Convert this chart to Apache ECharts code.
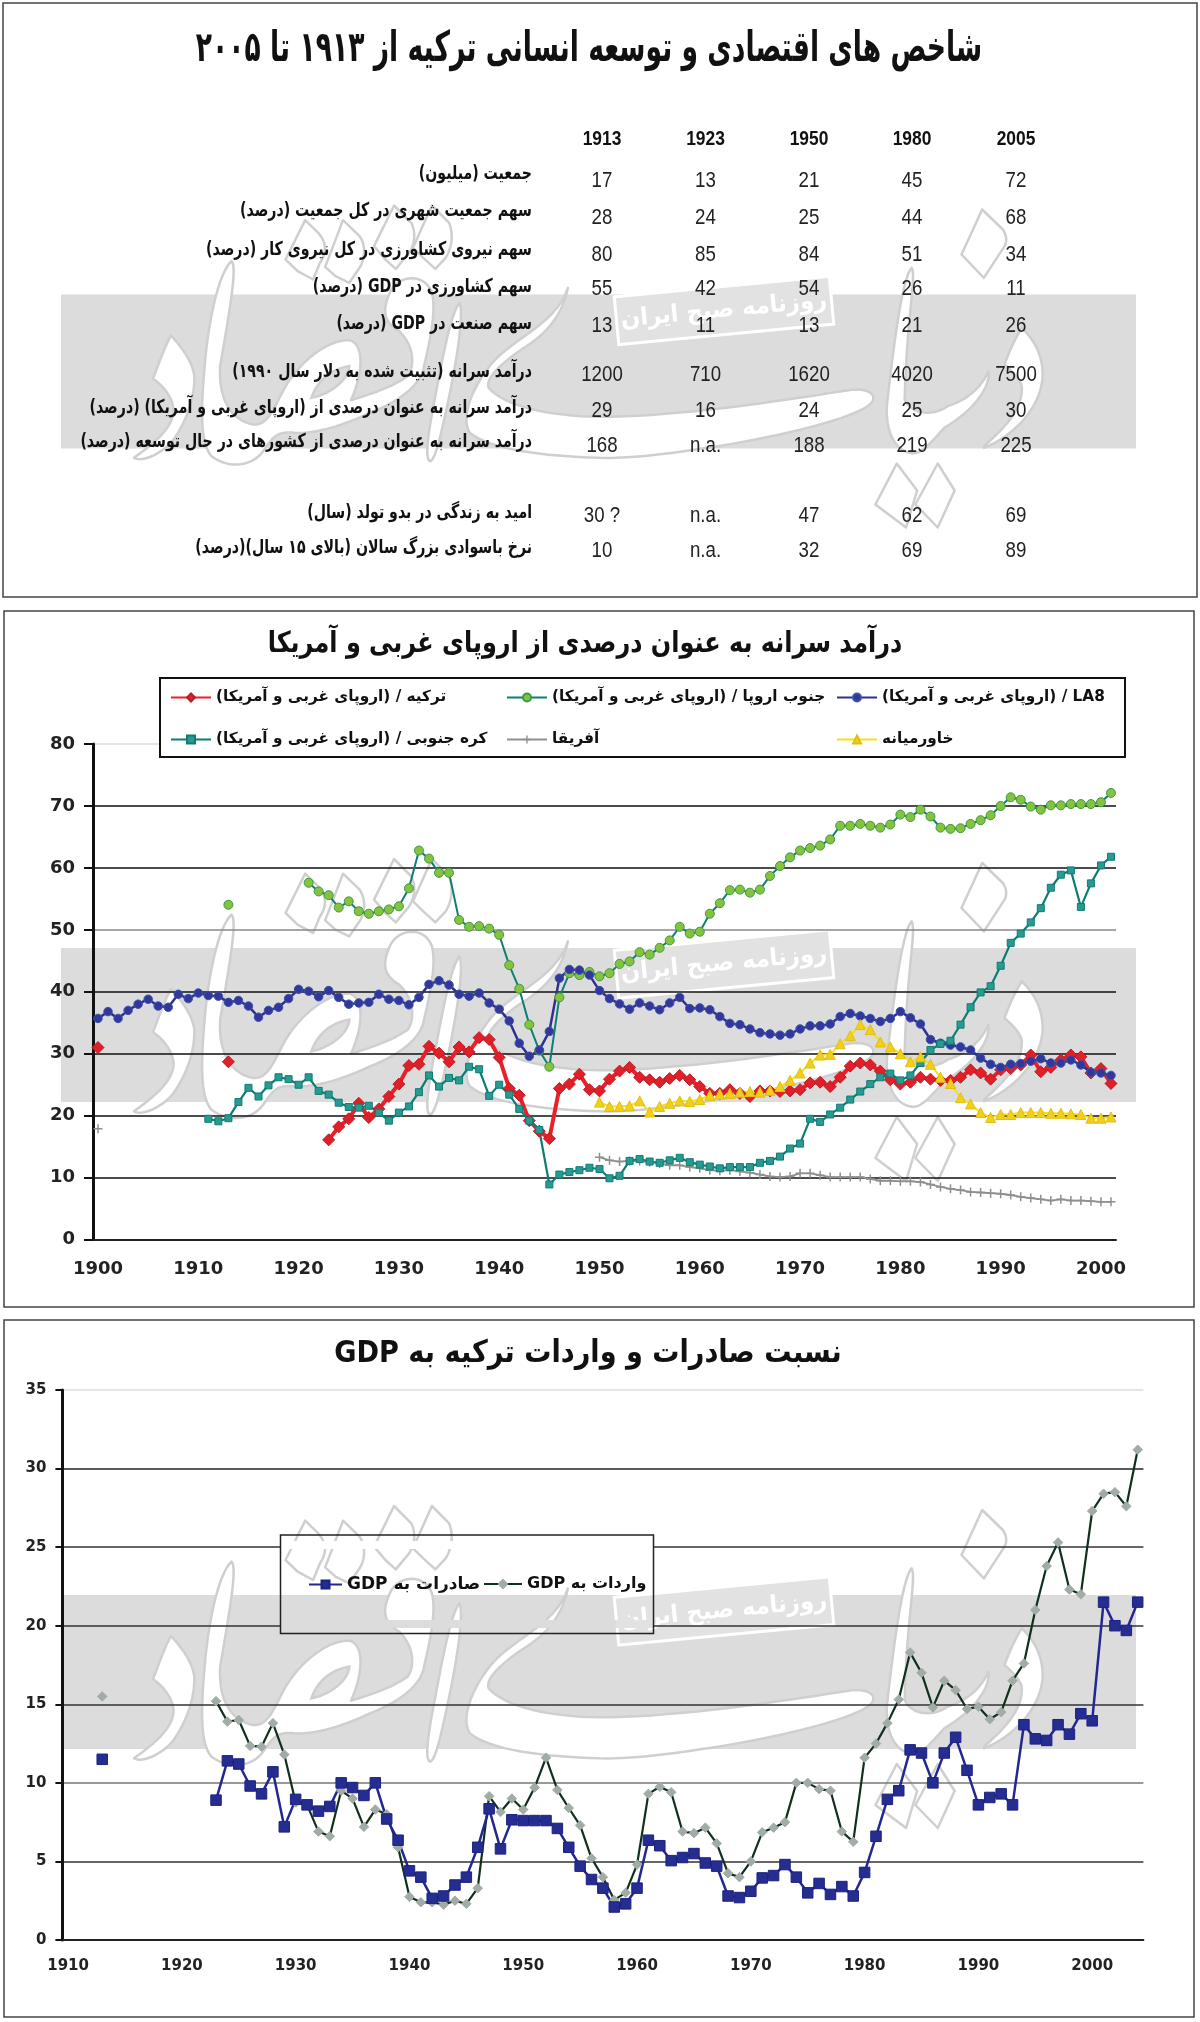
<!DOCTYPE html>
<html>
<head>
<meta charset="utf-8">
<style>
html,body{margin:0;padding:0;background:#fff}
#main{width:1200px;height:2022px;position:absolute;left:0;top:0}
</style>
<script src="https://cdn.jsdelivr.net/npm/echarts@6/dist/echarts.min.js"></script>
</head>
<body>
<div id="main" dir="rtl"></div>
<script>
/* ---------- table ---------- */
const tableTitle = 'شاخص های اقتصادی و توسعه انسانی ترکیه از ۱۹۱۳ تا ۲۰۰۵';
const tableYears = ['1913','1923','1950','1980','2005'];
const tableLabels = [
 'جمعیت (میلیون)',
 'سهم جمعیت شهری در کل جمعیت (درصد)',
 'سهم نیروی کشاورزی در کل نیروی کار (درصد)',
 'سهم کشاورزی در GDP (درصد)',
 'سهم صنعت در GDP (درصد)',
 'درآمد سرانه (تثبیت شده به دلار سال ۱۹۹۰)',
 'درآمد سرانه به عنوان درصدی از (اروپای غربی و آمریکا) (درصد)',
 'درآمد سرانه به عنوان درصدی از کشورهای در حال توسعه (درصد)',
 'امید به زندگی در بدو تولد (سال)',
 'نرخ باسوادی بزرگ سالان (بالای ۱۵ سال)(درصد)'
];
const col1913 = ['17','28','80','55','13','1200','29','168','\u200e30 ?\u200e','10'];
const col1923 = ['13','24','85','42','11','710','16','\u200en.a.\u200e','\u200en.a.\u200e','\u200en.a.\u200e'];
const col1950 = ['21','25','84','54','13','1620','24','188','47','32'];
const col1980 = ['45','44','51','26','21','4020','25','219','62','69'];
const col2005 = ['72','68','34','11','26','7500','30','225','69','89'];

/* ---------- chart 2 ---------- */
const incomeTitle = 'درآمد سرانه به عنوان درصدی از اروپای غربی و آمریکا';
const incomeYears = [1900,1901,1902,1903,1904,1905,1906,1907,1908,1909,1910,1911,1912,1913,1914,1915,1916,1917,1918,1919,1920,1921,1922,1923,1924,1925,1926,1927,1928,1929,1930,1931,1932,1933,1934,1935,1936,1937,1938,1939,1940,1941,1942,1943,1944,1945,1946,1947,1948,1949,1950,1951,1952,1953,1954,1955,1956,1957,1958,1959,1960,1961,1962,1963,1964,1965,1966,1967,1968,1969,1970,1971,1972,1973,1974,1975,1976,1977,1978,1979,1980,1981,1982,1983,1984,1985,1986,1987,1988,1989,1990,1991,1992,1993,1994,1995,1996,1997,1998,1999,2000,2001];
const turkeyName='ترکیه / (اروپای غربی و آمریکا)', seName='جنوب اروپا / (اروپای غربی و آمریکا)', la8Name='LA8 / (اروپای غربی و آمریکا)', koreaName='کره جنوبی / (اروپای غربی و آمریکا)', africaName='آفریقا', meName='خاورمیانه';
// each run: [first year, values...]
const turkeyRuns = [[1900,31],[1913,28.7],[1923,16.1,18.2,19.5,22,19.7,21.1,23.1,25.1,28.1,28.3,31.2,30.1,28.7,31.1,30.3,32.6,32.3,29.4,24.4,23.3,19.2,17.5,16.3,24.4,25.1,26.7,24.2,24,25.9,27.2,27.8,26.2,25.8,25.4,26,26.5,25.8,24.7,23.6,23.6,24.2,23.6,23.1,24,24,23.9,24,24.2,25.3,25.4,24.7,26.2,28,28.5,28.2,27.2,25.8,25.1,25.4,26.2,25.9,25.7,25.7,26.2,27.4,26.9,25.9,27.4,27.6,28.2,29.8,27.1,27.8,29,29.8,29.5,26.9,27.6,25.2]];
const southEuropeRuns = [[1913,54.05],[1921,57.6,56.2,55.6,53.6,54.6,53,52.6,53,53.3,53.8,56.7,62.8,61.5,59.2,59.2,51.6,50.5,50.6,50.2,49.2,44.3,40.5,34.7,30.5,27.9,39.1,43,42.7,43.2,42.5,43,44.5,44.9,46.4,46,47.1,48.3,50.5,49.4,49.7,52.6,54.3,56.4,56.5,56,56.5,58.7,60.3,61.7,62.8,63.2,63.6,64.6,66.8,66.8,67.1,66.8,66.5,67,68.6,68.2,69.4,68.3,66.5,66.3,66.4,67.1,67.7,68.5,70,71.4,71,69.9,69.4,70.1,70.1,70.3,70.3,70.3,70.6,72.1]];
const la8Runs = [[1900,35.7,36.8,35.7,37,38,38.8,37.7,37.5,39.6,38.9,39.8,39.4,39.3,38.3,38.6,37.7,35.9,37,37.5,38.9,40.4,40.1,39.2,40.2,39.1,38,38.2,38.3,39.6,38.8,38.6,37.9,39.1,41.2,41.8,41.1,39.6,39.3,39.8,38.2,37.2,35.3,31.7,29.6,30.6,33.6,42.2,43.6,43.5,42.7,40.2,38.9,38.05,37.2,38.2,37.7,37.1,38.2,39.1,37.3,37.4,37.1,36,34.9,34.7,34,33.4,33.2,33,33.2,34,34.5,34.5,34.8,36,36.5,36.1,35.7,35.2,35.7,36.8,35.8,34.8,32.3,31.7,31.4,31.1,30.6,29.3,28.3,27.8,28.3,28.4,28.8,29.2,28.5,28.5,29,28.2,27,26.9,26.5]];
const koreaRuns = [[1911,19.5,19.1,19.6,22.2,24.5,23.1,24.9,26.2,25.9,25,26.2,24,23.4,22.1,21.4,21.3,21.6,20.5,19.2,20.5,21.5,23.8,26.5,24.7,26.1,25.7,27.9,27.5,23.2,25,23.4,21.1,19.2,17.7,8.9,10.5,10.9,11.2,11.6,11.4,9.9,10.3,12.7,13,12.6,12.4,12.8,13.2,12.5,12.1,11.8,11.5,11.7,11.7,11.7,12.4,12.7,13.4,14.7,15.5,19.5,19,20.2,21.3,22.6,23.9,25.1,26.2,26.8,25.7,26.5,28.5,30.6,31.6,32.1,34.7,37.5,39.9,40.9,44.2,47.9,49.4,51.2,53.5,56.8,58.9,59.6,53.7,57.5,60.4,61.8]];
const africaRuns = [[1900,17.9],[1950,13.3,12.8,12.6,12.7,12.7,12.5,12.3,12,12,11.7,11.5,11.2,11.1,11.2,11,10.8,10.5,10.2,10.1,10.2,10.7,10.7,10.4,10.1,10.1,10.1,10.1,9.8,9.5,9.5,9.4,9.4,9.3,8.9,8.5,8.2,8,7.7,7.6,7.5,7.4,7.2,6.9,6.7,6.5,6.3,6.5,6.3,6.3,6.2,6.1,6.1]];
const middleEastRuns = [[1950,22.2,21.5,21.5,21.6,22.4,20.6,21.5,22,22.4,22.3,22.6,23.3,23.5,23.6,23.8,23.9,23.8,24.1,24.7,25.7,26.9,28.5,29.8,29.9,31.6,32.9,34.7,33.9,31.9,31.1,30,28.7,29.5,28.3,26.2,25.2,22.9,21.9,20.5,19.7,20.2,20.2,20.5,20.5,20.5,20.4,20.4,20.3,20.2,19.6,19.6,19.8]];

/* ---------- chart 3 ---------- */
const tradeTitle = 'نسبت صادرات و واردات ترکیه به GDP';
const tradeYears = [1910,1911,1912,1913,1914,1915,1916,1917,1918,1919,1920,1921,1922,1923,1924,1925,1926,1927,1928,1929,1930,1931,1932,1933,1934,1935,1936,1937,1938,1939,1940,1941,1942,1943,1944,1945,1946,1947,1948,1949,1950,1951,1952,1953,1954,1955,1956,1957,1958,1959,1960,1961,1962,1963,1964,1965,1966,1967,1968,1969,1970,1971,1972,1973,1974,1975,1976,1977,1978,1979,1980,1981,1982,1983,1984,1985,1986,1987,1988,1989,1990,1991,1992,1993,1994,1995,1996,1997,1998,1999,2000,2001,2002,2003,2004];
const exportName='صادرات به GDP', importName='واردات به GDP';
const exportRuns = [[1913,11.5],[1923,8.9,11.4,11.2,9.8,9.3,10.7,7.2,8.95,8.6,8.2,8.5,10,9.7,9.2,10,7.7,6.35,4.4,4,2.65,2.8,3.5,4,5.9,8.35,5.8,7.65,7.6,7.6,7.6,7.1,5.9,4.7,3.85,3.3,2.1,2.3,3.3,6.35,6,5.05,5.25,5.5,4.9,4.7,2.8,2.7,3.1,3.95,4.1,4.8,4,3,3.6,2.9,3.4,2.8,4.3,6.6,8.95,9.5,12.1,11.9,10,11.9,12.9,10.8,8.6,9.07,9.3,8.6,13.7,12.8,12.7,13.7,13.1,14.4,13.95,21.5,20,19.7,21.5]];
const importRuns = [[1913,15.5],[1923,15.2,13.9,14,12.35,12.3,13.8,11.8,8.75,8.6,6.9,6.6,9.5,9,7.2,8.3,8,5.9,2.75,2.4,2.4,2.25,2.5,2.3,3.3,9.15,8.15,9,8.3,9.7,11.6,9.55,8.4,7.3,5.2,4,2.55,3,4.8,9.3,9.75,9.4,6.9,6.8,7.15,6.15,4.25,4,5,6.85,7.15,7.5,10,10,9.6,9.5,6.9,6.25,11.6,12.5,13.8,15.3,18.3,17,14.8,16.5,15.9,14.7,14.85,14.05,14.5,16.5,17.6,21,23.8,25.3,22.3,22,27.3,28.4,28.5,27.6,31.2]];

const brandText = 'روزنامه صبح ایران';

function fromRuns(runs, years){
  const out = years.map(()=>null);
  runs.forEach(r=>{ r.slice(1).forEach((v,i)=>{ const k=years.indexOf(r[0]+i); if(k>=0) out[k]=v; }); });
  return out;
}

/* ---------- drawing helpers ---------- */
const FA='"DejaVu Sans",sans-serif';
const NARROW='"Liberation Sans",sans-serif';
const g=[];
function txt(t,x,y,o){
  g.push({type:'text',x:x,y:y,z:8,scaleX:o.sx||1,scaleY:o.sy||1,silent:true,
    style:{text:t,fill:o.fill||'#111',font:(o.w||'normal')+' '+o.s+'px '+(o.f||FA),textAlign:o.a||'center',textVerticalAlign:'middle'}});
}
// watermark outlines, in a drawing space scaled into each panel
const wmWhite=[
 'M215,835 C260,800 330,750 330,690 C325,650 300,620 270,597 C285,560 300,510 322,468 C360,510 385,550 390,590 C392,650 370,720 330,780 C300,820 240,850 215,835 Z',
 'M498,245 C515,260 495,380 465,560 C460,650 490,720 560,735 C600,740 620,690 640,650 C680,560 770,480 840,482 C880,490 885,570 845,662 C900,645 960,625 1010,590 C1030,560 1030,500 985,455 C945,430 930,400 960,335 C985,285 1060,280 1080,340 C1095,400 1070,500 1055,570 C1045,610 1000,660 900,700 C830,735 740,765 680,760 C630,755 620,770 590,815 C560,860 490,870 440,830 C405,790 410,680 420,560 C430,430 460,280 498,245 Z',
 'M1160,370 C1175,400 1150,560 1120,700 C1105,770 1090,840 1075,845 C1060,840 1065,780 1090,650 C1110,540 1135,400 1160,370 Z',
 'M1475,325 C1460,400 1420,460 1340,510 C1270,560 1235,600 1245,625 C1290,680 1420,710 1568,712 C1750,712 2000,680 2290,632 C2340,625 2370,640 2360,665 C2340,700 2200,745 1970,790 C1820,815 1680,838 1568,835 C1400,830 1250,810 1190,760 C1165,720 1190,640 1240,570 C1300,480 1440,440 1475,325 Z',
 'M2473,265 C2488,290 2458,420 2453,660 C2468,700 2528,715 2578,680 C2638,660 2678,620 2696,575 C2703,620 2658,690 2568,745 C2528,790 2498,830 2468,820 C2418,810 2393,740 2403,660 C2418,530 2443,300 2473,265 Z',
 'M2683,800 C2738,750 2798,690 2793,620 C2783,590 2758,570 2743,555 C2758,510 2778,470 2793,445 C2828,480 2858,530 2853,600 C2843,690 2768,770 2683,805 Z',
 'M712,122 L750,160 C775,190 775,220 755,250 L735,300 L690,275 L655,240 Z',
 'M822,122 L870,170 C890,200 885,240 870,265 L840,310 L800,290 L770,262 Z',
 'M970,78 L1020,130 C1035,160 1030,200 1010,225 L975,268 L945,240 L912,200 Z',
 'M1080,78 L1130,130 C1145,170 1135,210 1120,235 L1090,268 L1055,235 L1025,205 Z',
 'M2678,90 L2738,150 C2750,170 2750,185 2743,200 L2683,295 L2618,225 Z',
 'M2430,852 L2489,933 L2457,1044 L2368,975 Z',
 'M2549,852 L2598,933 L2549,1044 L2484,975 Z'
];
const wmGray='M730,655 C745,610 780,570 840,560 C840,590 800,640 730,655 Z';
// flatten an outline into polygon points inside one panel
function outline(d,dy){
  const t=d.match(/[MCLZ]|-?\d+(\.\d+)?/g), pts=[]; let i=0, cx=0, cy=0;
  const X=v=>60+v/2.904, Y=v=>1480+dy+v/3;
  while(i<t.length){
    const c=t[i++];
    if(c==='M'||c==='L'){ cx=+t[i++]; cy=+t[i++]; pts.push([X(cx),Y(cy)]); }
    else if(c==='C'){
      const a=+t[i++],b=+t[i++],e=+t[i++],f=+t[i++],h=+t[i++],k=+t[i++];
      for(let s=1;s<=16;s++){const u=s/16,v=1-u;
        pts.push([X(v*v*v*cx+3*v*v*u*a+3*v*u*u*e+u*u*u*h),Y(v*v*v*cy+3*v*v*u*b+3*v*u*u*f+u*u*u*k)]);}
      cx=h;cy=k;
    }
  }
  return pts;
}
function panelDecor(bandTop){
  g.push({type:'rect',z:1,silent:true,shape:{x:61,y:bandTop,width:1075,height:154},style:{fill:'#dcdcdc'}});
  const dy=bandTop-1595;
  wmWhite.forEach((d,i)=>g.push({type:'polygon',z:2,z2:i,silent:true,
    shape:{points:outline(d,dy)},style:{fill:'#fff',stroke:'#cfcfcf',lineWidth:2.5,lineJoin:'round'}}));
  g.push({type:'polygon',z:2,z2:30,silent:true,shape:{points:outline(wmGray,dy)},style:{fill:'#dcdcdc',stroke:'#cfcfcf',lineWidth:2.5}});
  g.push({type:'rect',z:2,z2:40,silent:true,x:724,y:bandTop+16,rotation:0.095,shape:{x:-108,y:-24,width:216,height:48},style:{fill:'#e2e2e2',stroke:'#fff',lineWidth:3}});
  g.push({type:'text',z:2,z2:41,silent:true,x:724,y:bandTop+16,rotation:0.095,scaleX:0.95,style:{text:brandText,fill:'#fff',font:'bold 24px '+FA,textAlign:'center',textVerticalAlign:'middle'}});
}
function frame(x,y,w,h,c,lw){g.push({type:'rect',z:8,silent:true,shape:{x:x,y:y,width:w,height:h},style:{fill:'none',stroke:c||'#444',lineWidth:lw||1.5}});}

panelDecor(294.5); panelDecor(948); panelDecor(1595);
frame(3,3,1194,594); frame(4,611,1190,696); frame(4,1320,1190,697);

/* titles */
txt(tableTitle,589,50,{s:42,w:'bold',sx:0.634});
txt(incomeTitle,585,644,{s:29,w:'bold',sx:0.826});
txt(tradeTitle,588,1354,{s:31,w:'bold',sx:0.875});

/* table */
const colX=[602,705.5,809,912,1016];
const rowY=[181,218,254.5,289,325.5,374.5,410.5,445.5,515.6,550.6];
const labelY=[174,211,250,287,324,372,408,442,513,548];
const cols=[col1913,col1923,col1950,col1980,col2005];
tableYears.forEach((t,i)=>txt(t,colX[i],139,{s:20,w:'bold',f:NARROW,sx:0.87}));
tableLabels.forEach((t,i)=>{
  txt(t,532,labelY[i],{s:19,a:'right',sx:0.744,w:'bold'});
  cols.forEach((c,j)=>txt(c[i],colX[j],rowY[i],{s:22,f:NARROW,fill:'#222',sx:0.85}));
});

/* legend boxes */
g.push({type:'rect',z:6,silent:true,shape:{x:160,y:678,width:965,height:79},style:{fill:'#fff',stroke:'#111',lineWidth:2}});
g.push({type:'rect',z:4,silent:true,shape:{x:281,y:1541,width:372,height:8},style:{fill:'#fff'}});
g.push({type:'rect',z:4,silent:true,shape:{x:281,y:1620,width:335,height:8},style:{fill:'#dcdcdc'}});
g.push({type:'rect',z:4,silent:true,shape:{x:616,y:1620,width:37,height:8},style:{fill:'#e2e2e2'}});
g.push({type:'rect',z:6,silent:true,shape:{x:280.5,y:1535,width:373,height:98.5},style:{fill:'none',stroke:'#222',lineWidth:1.5}});

function leg(name,left,top,font,w){
  return {z:7,data:[name],left:left,top:top,orient:'horizontal',itemWidth:w||40,itemHeight:10,itemGap:0,selectedMode:false,padding:0,
    textStyle:{fontFamily:FA,fontWeight:'bold',fontSize:font,color:'#111'}};
}
const plus='path://M-1,-6 L1,-6 L1,-1 L6,-1 L6,1 L1,1 L1,6 L-1,6 L-1,1 L-6,1 L-6,-1 L-1,-1 Z';
function line(name,runs,years,xi,color,width,symbol,size,fill,border,extra){
  return Object.assign({type:'line',name:name,xAxisIndex:xi,yAxisIndex:xi,z:5,data:fromRuns(runs,years),
    connectNulls:false,showSymbol:true,showAllSymbol:true,smooth:false,animation:false,
    symbol:symbol,symbolSize:size,lineStyle:{color:color,width:width},
    itemStyle:{color:fill,borderColor:border,borderWidth:1}},extra||{});
}
const axisTxt=(s,m)=>({fontFamily:FA,fontWeight:'bold',fontSize:s,color:'#222',margin:m});

const option={
  backgroundColor:'#fff',
  animation:false,
  grid:[
    {left:93,top:744,width:1023,height:495.6,containLabel:false},
    {left:62.4,top:1390,width:1081,height:550,containLabel:false}
  ],
  xAxis:[
    {type:'category',gridIndex:0,data:incomeYears,z:3,boundaryGap:true,
      axisLine:{lineStyle:{color:'#222',width:2}},
      axisTick:{interval:9,length:7,inside:false,alignWithLabel:false,lineStyle:{color:'#222',width:2}},
      axisLabel:Object.assign({interval:9,hideOverlap:false},axisTxt(18,21)),splitLine:{show:false}},
    {type:'category',gridIndex:1,data:tradeYears,z:3,boundaryGap:true,
      axisLine:{lineStyle:{color:'#222',width:2}},
      axisTick:{interval:4,length:7,inside:false,alignWithLabel:false,lineStyle:{color:'#222',width:2}},
      axisLabel:Object.assign({interval:9,hideOverlap:false},axisTxt(15,19)),splitLine:{show:false}}
  ],
  yAxis:[
    {type:'value',gridIndex:0,min:0,max:80,interval:10,z:3,
      axisLine:{show:true,lineStyle:{color:'#111',width:3}},
      axisTick:{show:true,length:9,lineStyle:{color:'#111',width:2}},
      axisLabel:axisTxt(18,18),
      splitLine:{show:true,lineStyle:{width:1.5,color:['#111','#111','#111','#111','#111','#888','#111','#111','#ddd']}}},
    {type:'value',gridIndex:1,min:0,max:35,interval:5,z:3,
      axisLine:{show:true,lineStyle:{color:'#111',width:3}},
      axisTick:{show:true,length:7,lineStyle:{color:'#111',width:2}},
      axisLabel:axisTxt(15,16),
      splitLine:{show:true,lineStyle:{width:1.5,color:['#111','#333','#777','#333','#333','#333','#222','#ddd']}}}
  ],
  legend:[
    leg(turkeyName,170,690,15.3), leg(seName,506,690,15.3), leg(la8Name,836,690,15.3),
    leg(koreaName,170,732,15.3), leg(africaName,506,732,15.3), leg(meName,836,732,15.3),
    leg(exportName,308,1576,17,33), leg(importName,483,1576,16,38)
  ],
  graphic:{elements:g},
  series:[
    line(turkeyName,turkeyRuns,incomeYears,0,'#e8202a',4,'diamond',12,'#e01f28','#b52028'),
    line(seName,southEuropeRuns,incomeYears,0,'#0f7f72',2,'circle',9,'#85c33f','#3c9a45'),
    line(la8Name,la8Runs,incomeYears,0,'#2f3192',2.5,'circle',8.5,'#33379b','#3a55a8'),
    line(africaName,africaRuns,incomeYears,0,'#8f8f8f',1.8,plus,9,'#8f8f8f','#8f8f8f',{itemStyle:{color:'#8f8f8f',borderWidth:0}}),
    line(koreaName,koreaRuns,incomeYears,0,'#0d7d72',2.2,'rect',7,'#289a92','#0d7d72'),
    line(meName,middleEastRuns,incomeYears,0,'#f9df16',2,'triangle',10,'#f2cf1a','#e0bf10'),
    line(importName,importRuns,tradeYears,1,'#10301c',2.2,'diamond',9.5,'#a2aca6','#a2aca6'),
    line(exportName,exportRuns,tradeYears,1,'#23278f',2.5,'rect',10.5,'#262d90','#1c2280')
  ]
};
const chart=echarts.init(document.getElementById('main'),null,{renderer:'canvas',width:1200,height:2022});
chart.setOption(option);
</script>
</body>
</html>
